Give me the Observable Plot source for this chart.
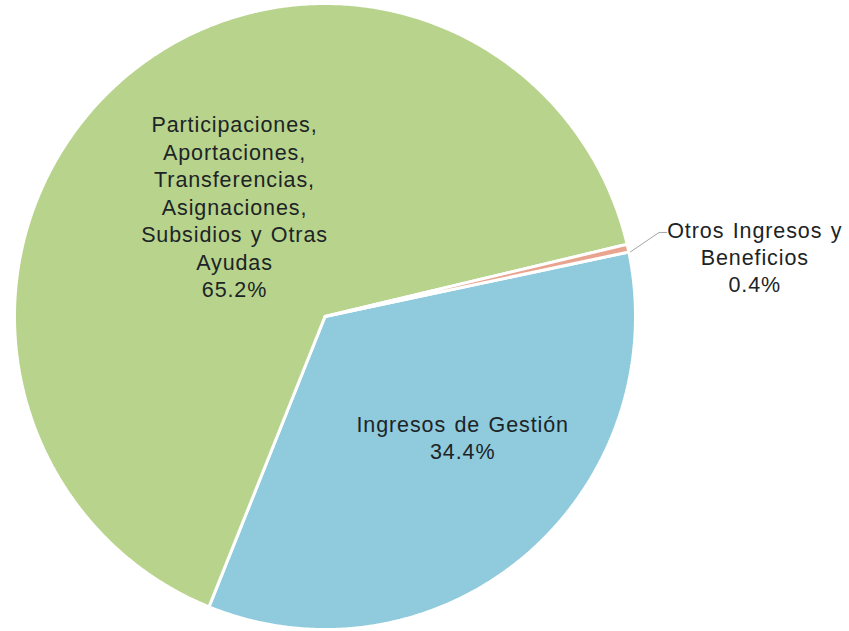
<!DOCTYPE html>
<html>
<head>
<meta charset="utf-8">
<script src="https://cdn.jsdelivr.net/npm/d3@7"></script>
<script src="https://cdn.jsdelivr.net/npm/@observablehq/plot@0.6"></script>
<style>
  html, body { margin: 0; padding: 0; background: #fff; }
  svg text { letter-spacing: 0.9px; word-spacing: 1.5px; }
</style>
</head>
<body>
<div id="chart"></div>
<script>
// Data (clockwise order, as drawn)
const categories = [
  "Ingresos de Gestión",
  "Participaciones, Aportaciones, Transferencias, Asignaciones, Subsidios y Otras Ayudas",
  "Otros Ingresos y Beneficios"
];
const labelLines = [
  "Ingresos de Gestión",
  "Participaciones,\nAportaciones,\nTransferencias,\nAsignaciones,\nSubsidios y Otras\nAyudas",
  "Otros Ingresos y\nBeneficios"
];
const percents = [34.4, 65.2, 0.4];
const colors = ["#8fcbdc", "#b8d38c", "#e8a48e"];

// Layout
const startDeg = 78.1; // first slice starts here (clockwise from 12 o'clock)
const W = 849, H = 631;
const total = d3.sum(percents);

const slices = [];
let acc = startDeg;
percents.forEach((p, i) => {
  const a0 = acc, a1 = acc + p / total * 360;
  acc = a1;
  slices.push({name: categories[i], label: labelLines[i], pct: p, a0, a1, mid: (a0 + a1) / 2});
});

// polygon points for each slice
const pts = [];
for (const s of slices) {
  pts.push({name: s.name, x: 0, y: 0});
  const n = Math.max(2, Math.ceil((s.a1 - s.a0) / 0.5));
  for (let k = 0; k <= n; k++) {
    const a = (s.a0 + (s.a1 - s.a0) * k / n) * Math.PI / 180;
    pts.push({name: s.name, x: Math.sin(a), y: Math.cos(a)});
  }
  pts.push({name: s.name, x: 0, y: 0});
}

const polar = (deg, r) => {
  const a = deg * Math.PI / 180;
  return {x: r * Math.sin(a), y: r * Math.cos(a)};
};

// inside labels (positioned from slice mid-angle, then nudged)
const insideBlue = [{...polar(slices[0].mid, 0.58), text: slices[0].label + "\n" + slices[0].pct.toFixed(1) + "%"}];
const insideGreen = [{...polar(slices[1].mid, 0.437), text: slices[1].label + "\n" + slices[1].pct.toFixed(1) + "%"}];

// outside label for small slice
const small = slices[2];
const e0 = polar(small.mid, 1.0);
const leader = [
  {x: e0.x + 0.008, y: e0.y - 0.012},
  {x: e0.x + 0.1, y: e0.y + 0.05},
  {x: e0.x + 0.125, y: e0.y + 0.05}
];
const outside = [{x: e0.x + 0.125, y: e0.y + 0.05, text: small.label + "\n" + small.pct.toFixed(1) + "%"}];

const textOpts = {x: "x", y: "y", text: "text", fontSize: 21.5, lineHeight: 1.28, fill: "#1c2426", lineAnchor: "middle", textAnchor: "middle"};

const chart = Plot.plot({
  width: W,
  height: H,
  marginLeft: 14,
  marginRight: W - 635,
  marginTop: 3,
  marginBottom: 2,
  x: {domain: [-1, 1], axis: null},
  y: {domain: [-1, 1], axis: null},
  color: {domain: categories, range: colors},
  style: {fontFamily: "'Liberation Sans', Arial, sans-serif", background: "#fff"},
  marks: [
    Plot.line(pts, {x: "x", y: "y", z: "name", fill: "name", stroke: "white", strokeWidth: 3, strokeLinejoin: "miter", curve: "linear"}),
    Plot.line(leader, {x: "x", y: "y", stroke: "#a6a6a6", strokeWidth: 1}),
    Plot.text(insideBlue, {...textOpts, dx: 22, dy: -19}),
    Plot.text(insideGreen, {...textOpts, dx: -2, dy: -7}),
    Plot.text(outside, {...textOpts, lineHeight: 1.26, dx: 88, dy: 24})
  ]
});
document.getElementById("chart").appendChild(chart);
</script>
</body>
</html>
